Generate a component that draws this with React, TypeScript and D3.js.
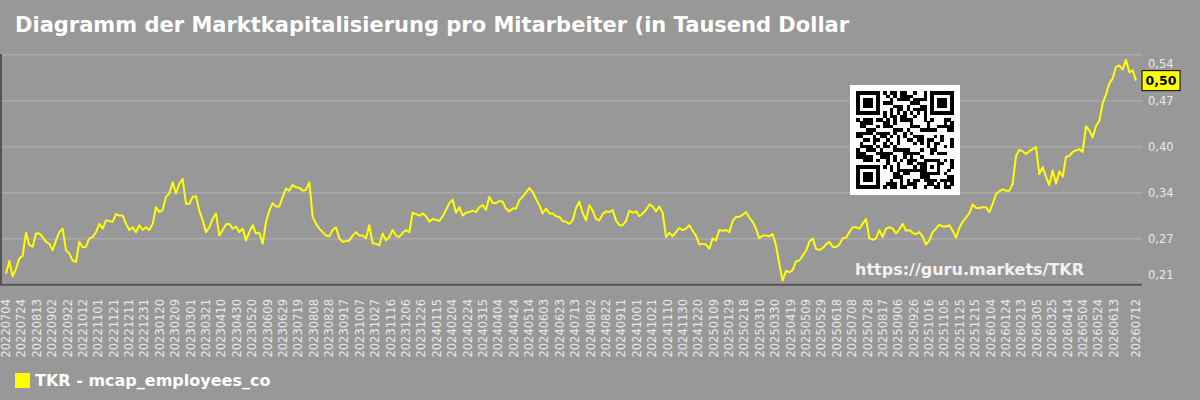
import React from "react";
import * as d3 from "d3";

const title = "Diagramm der Marktkapitalisierung pro Mitarbeiter (in Tausend Dollar";
const seriesName = "TKR - mcap_employees_co";
const siteUrl = "https://guru.markets/TKR";

// x axis: first day, last day, label every 20 days
const startDay = "20220704";
const endDay = "20260712";
const lastRegularTick = "20260613";
const tickStepDays = 20;

// y axis ticks (value, label)
const yTickValues = [0.205, 0.2715, 0.338, 0.4045, 0.471, 0.5375];
const yTickLabels = ["0,21", "0,27", "0,34", "0,40", "0,47", "0,54"];
const lastValueLabel = "0,50";

// mcap / employees, evenly spaced from startDay to endDay
const values = [
  0.221, 0.239, 0.217, 0.228, 0.243, 0.247, 0.280, 0.262, 0.260, 0.279,
  0.279, 0.274, 0.267, 0.264, 0.255, 0.269, 0.281, 0.286, 0.255, 0.250,
  0.240, 0.238, 0.267, 0.259, 0.260, 0.272, 0.274, 0.281, 0.293, 0.286,
  0.298, 0.297, 0.296, 0.307, 0.305, 0.305, 0.293, 0.284, 0.288, 0.281,
  0.291, 0.284, 0.288, 0.284, 0.293, 0.317, 0.310, 0.313, 0.332, 0.337,
  0.353, 0.337, 0.351, 0.358, 0.322, 0.322, 0.332, 0.333, 0.312, 0.298,
  0.281, 0.288, 0.300, 0.308, 0.276, 0.284, 0.292, 0.293, 0.286, 0.289,
  0.281, 0.286, 0.269, 0.281, 0.291, 0.279, 0.280, 0.264, 0.296, 0.312,
  0.323, 0.318, 0.318, 0.332, 0.344, 0.341, 0.349, 0.346, 0.345, 0.341,
  0.342, 0.353, 0.303, 0.293, 0.286, 0.281, 0.276, 0.275, 0.284, 0.288,
  0.272, 0.267, 0.268, 0.269, 0.276, 0.281, 0.276, 0.276, 0.272, 0.291,
  0.265, 0.264, 0.262, 0.279, 0.269, 0.274, 0.284, 0.276, 0.274,
  0.280, 0.284, 0.281, 0.309, 0.307, 0.305, 0.308, 0.304, 0.296, 0.300,
  0.299, 0.297, 0.304, 0.313, 0.323, 0.328, 0.309, 0.317, 0.305, 0.309,
  0.310, 0.312, 0.310, 0.317, 0.320, 0.313, 0.332, 0.323, 0.323, 0.326,
  0.325, 0.315, 0.311, 0.315, 0.315, 0.327, 0.332, 0.338, 0.345, 0.339,
  0.329, 0.320, 0.308, 0.315, 0.308, 0.308, 0.304, 0.303, 0.297, 0.296,
  0.293, 0.298, 0.316, 0.325, 0.309, 0.298, 0.320, 0.312, 0.300, 0.298,
  0.307, 0.311, 0.310, 0.313, 0.298, 0.291, 0.291, 0.297, 0.312, 0.309,
  0.311, 0.304, 0.308, 0.313, 0.321, 0.318, 0.311, 0.318, 0.309, 0.274,
  0.280, 0.275, 0.281, 0.287, 0.284, 0.286, 0.291, 0.283, 0.276, 0.263,
  0.264, 0.263, 0.257, 0.272, 0.269, 0.284, 0.283, 0.284, 0.281, 0.297,
  0.303, 0.303, 0.306, 0.310, 0.302, 0.296, 0.286, 0.272, 0.276, 0.276,
  0.275, 0.278, 0.262, 0.235, 0.211, 0.225, 0.223, 0.226, 0.239, 0.240,
  0.247, 0.254, 0.267, 0.272, 0.257, 0.255, 0.258, 0.263, 0.267, 0.260,
  0.259, 0.263, 0.272, 0.273, 0.281, 0.288, 0.288, 0.286, 0.293, 0.300,
  0.272, 0.270, 0.272, 0.284, 0.274, 0.286, 0.288, 0.286, 0.279, 0.285,
  0.293, 0.283, 0.284, 0.280, 0.278, 0.281, 0.275, 0.263, 0.269, 0.281,
  0.286, 0.292, 0.289, 0.289, 0.291, 0.283, 0.273, 0.287, 0.296, 0.302,
  0.308, 0.321, 0.316, 0.316, 0.317, 0.317, 0.310, 0.322, 0.336, 0.340,
  0.343, 0.341, 0.341, 0.351, 0.391, 0.400, 0.398, 0.394, 0.398, 0.401,
  0.404, 0.365, 0.375, 0.361, 0.349, 0.370, 0.351, 0.369, 0.361, 0.390,
  0.391, 0.397, 0.399, 0.401, 0.397, 0.434, 0.428, 0.418, 0.434, 0.442,
  0.467, 0.480, 0.496, 0.503, 0.520, 0.522, 0.516, 0.530, 0.512, 0.515,
  0.500,
];

const W = 1200;
const H = 400;
const bg = "#989898";
const lineColor = "#ffff00";
const font = "'DejaVu Sans', sans-serif";

// qr-ish badge (decorative)
const qrN = 29;
const qrMatrix = () => {
  const m: boolean[][] = [];
  const finder = (r: number, c: number, r0: number, c0: number) => {
    const d = Math.max(Math.abs(r - r0 - 3), Math.abs(c - c0 - 3));
    return d <= 1 || d === 3;
  };
  for (let r = 0; r < qrN; r++) {
    const row: boolean[] = [];
    for (let c = 0; c < qrN; c++) {
      let v: boolean;
      if (r < 7 && c < 7) v = finder(r, c, 0, 0);
      else if (r < 7 && c >= qrN - 7) v = finder(r, c, 0, qrN - 7);
      else if (r >= qrN - 7 && c < 7) v = finder(r, c, qrN - 7, 0);
      else if ((r === 7 && (c < 8 || c >= qrN - 8)) || (c === 7 && (r < 8 || r >= qrN - 8)) ||
               (r === qrN - 8 && c < 8) || (c === qrN - 8 && r < 8)) v = false;
      else if (r === 6) v = c % 2 === 0;
      else if (c === 6) v = r % 2 === 0;
      else if (Math.abs(r - 22) <= 2 && Math.abs(c - 22) <= 2) {
        v = Math.max(Math.abs(r - 22), Math.abs(c - 22)) !== 1;
      } else {
        const h = ((r * 73856093) ^ (c * 19349663) ^ (r * c * 83492791)) >>> 0;
        v = ((h >>> 7) & 3) < 2;
      }
      row.push(v);
    }
    m.push(row);
  }
  return m;
};

export default function App() {
  const parse = d3.utcParse("%Y%m%d");
  const fmt = d3.utcFormat("%Y%m%d");
  const t0 = parse(startDay) as Date;
  const t1 = parse(endDay) as Date;

  const x = d3.scaleUtc().domain([t0, t1]).range([6, 1136]);
  const y = d3
    .scaleLinear()
    .domain([yTickValues[0], yTickValues[yTickValues.length - 1]])
    .range([284.7, 54.7]);

  const step = (+t1 - +t0) / (values.length - 1);
  const points: [Date, number][] = values.map((v, i) => [new Date(+t0 + i * step), v]);
  const path = d3
    .line<[Date, number]>()
    .x((d) => x(d[0]))
    .y((d) => y(d[1]))(points);

  const tickDates = d3.utcDay.range(t0, d3.utcDay.offset(parse(lastRegularTick) as Date, 1), tickStepDays);
  tickDates.push(t1);

  const qr = qrMatrix();
  const qrX = 850, qrY = 85, qrBox = 110;
  const mod = 3.37;
  const qrOff = (qrBox - mod * qrN) / 2;

  const lastY = y(values[values.length - 1]);

  return (
    <svg width={W} height={H} style={{ position: "absolute", left: 0, top: 0, fontFamily: font }}>
      <rect width={W} height={H} fill={bg} />
      <text x={15} y={32} fill="#ffffff" fontSize={21} fontWeight="bold">
        {title}
      </text>

      {/* grid */}
      <g>
        {yTickValues.map((v, i) => (
          <line key={i} x1={1} x2={1142} y1={y(v)} y2={y(v)} stroke="#a9a9a9" strokeWidth={1.5} />
        ))}
      </g>

      {/* qr badge */}
      <g shapeRendering="crispEdges">
        <rect x={qrX} y={qrY} width={qrBox} height={qrBox} fill="#ffffff" />
        {qr.map((row, r) =>
          row.map((on, c) =>
            on ? (
              <rect key={r + "-" + c} x={qrX + qrOff + c * mod} y={qrY + qrOff + r * mod}
                width={mod + 0.05} height={mod + 0.05} fill="#000000" />
            ) : null
          )
        )}
      </g>

      <text x={855} y={275} fill="#f2f2f2" fontSize={16} fontWeight="bold">
        {siteUrl}
      </text>

      <path d={path || ""} fill="none" stroke={lineColor} strokeWidth={2} strokeLinejoin="round" />

      {/* axes */}
      <line x1={1} x2={1} y1={54} y2={285} stroke="#555555" strokeWidth={2} />
      <line x1={0} x2={1142} y1={284.7} y2={284.7} stroke="#555555" strokeWidth={2} />

      {yTickValues.map((v, i) => (
        <text key={i} x={1148} y={Math.min(275, Math.max(64, y(v)))} dy="0.35em"
          fill="#e8e8e8" fontSize={11.5}>
          {yTickLabels[i]}
        </text>
      ))}

      {tickDates.map((d, i) => (
        <text key={i} transform={`translate(${x(d)},299) rotate(-90)`} textAnchor="end" dy="0.35em"
          fill="#e8e8e8" fontSize={11.5}>
          {fmt(d)}
        </text>
      ))}

      {/* current value tag */}
      <rect x={1142} y={lastY - 10} width={38} height={20} fill={lineColor} stroke="#000000" strokeWidth={1} />
      <text x={1161} y={lastY} dy="0.36em" textAnchor="middle" fontSize={12.5} fontWeight="bold" fill="#000000">
        {lastValueLabel}
      </text>

      {/* legend */}
      <rect x={15} y={373} width={15} height={15} fill={lineColor} />
      <text x={35} y={386} fill="#ffffff" fontSize={16} fontWeight="bold">
        {seriesName}
      </text>
    </svg>
  );
}
